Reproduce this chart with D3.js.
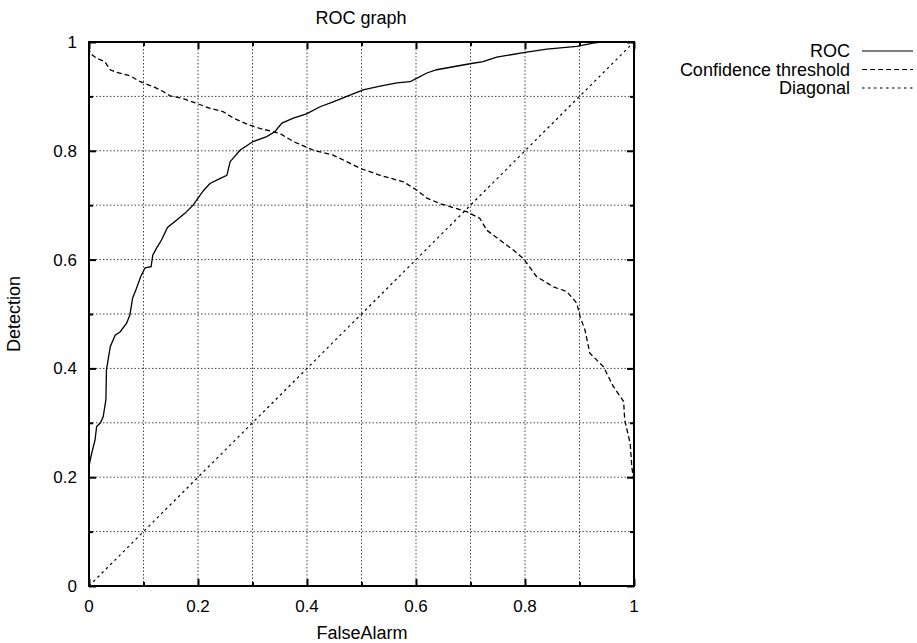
<!DOCTYPE html>
<html>
<head>
<meta charset="utf-8">
<script src="https://cdn.jsdelivr.net/npm/d3@7"></script>
<style>
  body { margin: 0; background: #fff; }
  text { font-family: "Liberation Sans", Arial, sans-serif; fill: #000; }
</style>
</head>
<body>
<svg id="chart" width="917" height="643"></svg>
<script>
// ROC curve (FalseAlarm, Detection)
const rocX = [0, 0, 0.003, 0.005, 0.011, 0.014, 0.021, 0.026, 0.031, 0.032, 0.039, 0.048, 0.057, 0.069, 0.075,
  0.08, 0.087, 0.095, 0.103, 0.114, 0.117, 0.124, 0.133, 0.144, 0.161, 0.176, 0.191, 0.2, 0.211, 0.222,
  0.24, 0.253, 0.259, 0.277, 0.301, 0.326, 0.341, 0.354, 0.375, 0.399, 0.424, 0.448, 0.473, 0.503, 0.534,
  0.565, 0.589, 0.601, 0.62, 0.638, 0.699, 0.723, 0.748, 0.8, 0.84, 0.895, 0.925, 0.94, 1];
const rocY = [0.04, 0.22, 0.235, 0.244, 0.268, 0.293, 0.3, 0.311, 0.342, 0.397, 0.44, 0.461, 0.467, 0.483, 0.498,
  0.529, 0.547, 0.569, 0.585, 0.587, 0.608, 0.621, 0.636, 0.659, 0.673, 0.685, 0.7, 0.713, 0.728, 0.74,
  0.749, 0.755, 0.78, 0.801, 0.817, 0.826, 0.835, 0.851, 0.86, 0.868, 0.881, 0.89, 0.9, 0.912, 0.919,
  0.925, 0.927, 0.933, 0.943, 0.949, 0.96, 0.964, 0.972, 0.981, 0.987, 0.992, 0.998, 1, 1];

// Confidence threshold curve
const thrX = [0, 0.002, 0.014, 0.029, 0.039, 0.051, 0.075, 0.094, 0.118, 0.136, 0.149, 0.173, 0.198, 0.222,
  0.246, 0.265, 0.295, 0.314, 0.35, 0.375, 0.412, 0.448, 0.473, 0.497, 0.534, 0.577, 0.601, 0.62, 0.644,
  0.693, 0.717, 0.73, 0.754, 0.778, 0.797, 0.821, 0.852, 0.877, 0.895, 0.901, 0.91, 0.919, 0.944, 0.962,
  0.981, 0.983, 0.993, 0.996, 1];
const thrY = [0.99, 0.979, 0.97, 0.964, 0.949, 0.944, 0.938, 0.927, 0.918, 0.909, 0.901, 0.896, 0.887, 0.878,
  0.872, 0.86, 0.847, 0.841, 0.832, 0.817, 0.801, 0.792, 0.78, 0.768, 0.755, 0.743, 0.728, 0.713, 0.703,
  0.688, 0.676, 0.654, 0.636, 0.618, 0.602, 0.569, 0.55, 0.541, 0.52, 0.495, 0.471, 0.428, 0.403, 0.367,
  0.339, 0.305, 0.262, 0.219, 0.19];

// Diagonal
const diagX = [0, 1];
const diagY = [0, 1];

const legendLabels = ["ROC", "Confidence threshold", "Diagonal"];
const tickValues = [0, 0.2, 0.4, 0.6, 0.8, 1];
const minorValues = [0.1, 0.3, 0.5, 0.7, 0.9];

const svg = d3.select("#chart");
const margin = { top: 42, right: 283, bottom: 57, left: 89 };
const width = 917, height = 643;

const x = d3.scaleLinear().domain([0, 1]).range([margin.left, width - margin.right]);
const y = d3.scaleLinear().domain([0, 1]).range([height - margin.bottom, margin.top]);

// grid
const allTicks = tickValues.concat(minorValues);
svg.append("g").selectAll("line")
  .data(allTicks.filter(d => d > 0 && d < 1))
  .enter().append("line")
  .attr("x1", d => x(d)).attr("x2", d => x(d))
  .attr("y1", y(0)).attr("y2", y(1))
  .attr("stroke", "#444").attr("stroke-width", 1).attr("stroke-dasharray", "1.5,2");
svg.append("g").selectAll("line")
  .data(allTicks.filter(d => d > 0 && d < 1))
  .enter().append("line")
  .attr("y1", d => y(d)).attr("y2", d => y(d))
  .attr("x1", x(0)).attr("x2", x(1))
  .attr("stroke", "#444").attr("stroke-width", 1).attr("stroke-dasharray", "1.5,2");

// axes with inward ticks on all sides
function axes(axisFn, vals, size, transform) {
  svg.append("g")
    .attr("transform", transform)
    .call(axisFn.tickValues(vals).tickSize(size).tickFormat(""))
    .call(g => g.select(".domain").remove())
    .call(g => g.selectAll("line").attr("stroke", "#000").attr("stroke-width", 2));
}
axes(d3.axisTop(x), tickValues, 7, `translate(0,${y(0)})`);
axes(d3.axisTop(x), minorValues, 4, `translate(0,${y(0)})`);
axes(d3.axisBottom(x), tickValues, 7, `translate(0,${y(1)})`);
axes(d3.axisBottom(x), minorValues, 4, `translate(0,${y(1)})`);
axes(d3.axisRight(y), tickValues, 7, `translate(${x(0)},0)`);
axes(d3.axisRight(y), minorValues, 4, `translate(${x(0)},0)`);
axes(d3.axisLeft(y), tickValues, 7, `translate(${x(1)},0)`);
axes(d3.axisLeft(y), minorValues, 4, `translate(${x(1)},0)`);

// tick labels
svg.append("g").selectAll("text")
  .data(tickValues).enter().append("text")
  .attr("x", d => x(d)).attr("y", y(0) + 25.5)
  .attr("text-anchor", "middle").attr("font-size", 17)
  .text(d => d3.format("~g")(d));
svg.append("g").selectAll("text")
  .data(tickValues).enter().append("text")
  .attr("x", x(0) - 12).attr("y", d => y(d) + 6)
  .attr("text-anchor", "end").attr("font-size", 17)
  .text(d => d3.format("~g")(d));

// curves
const line = d3.line().x(d => x(d[0])).y(d => y(d[1]));
svg.append("path")
  .datum(diagX.map((d, i) => [d, diagY[i]]))
  .attr("fill", "none").attr("stroke", "#000").attr("stroke-width", 1.2)
  .attr("stroke-dasharray", "2.5,3.5").attr("d", line);
svg.append("path")
  .datum(thrX.map((d, i) => [d, thrY[i]]))
  .attr("fill", "none").attr("stroke", "#000").attr("stroke-width", 1.3)
  .attr("stroke-dasharray", "5,3").attr("d", line);
svg.append("path")
  .datum(rocX.map((d, i) => [d, rocY[i]]))
  .attr("fill", "none").attr("stroke", "#000").attr("stroke-width", 1.3)
  .attr("d", line);

// frame
svg.append("rect")
  .attr("x", x(0)).attr("y", y(1))
  .attr("width", x(1) - x(0)).attr("height", y(0) - y(1))
  .attr("fill", "none").attr("stroke", "#000").attr("stroke-width", 2);

// titles
svg.append("text").attr("x", 361).attr("y", 23.5).attr("text-anchor", "middle")
  .attr("font-size", 18).text("ROC graph");
svg.append("text").attr("x", 362).attr("y", 639).attr("text-anchor", "middle")
  .attr("font-size", 18).text("FalseAlarm");
svg.append("text").attr("transform", "translate(20,314) rotate(-90)")
  .attr("text-anchor", "middle").attr("font-size", 18).text("Detection");

// legend
const dashes = [null, "5,3", "2.5,3.5"];
const legend = svg.append("g").selectAll("g")
  .data(legendLabels).enter().append("g")
  .attr("transform", (d, i) => `translate(0,${51 + i * 18.5})`);
legend.append("text").attr("x", 850).attr("y", 6)
  .attr("text-anchor", "end").attr("font-size", 18).text(d => d);
legend.append("line").attr("x1", 862).attr("x2", 913)
  .attr("stroke", "#000").attr("stroke-width", 1.2)
  .attr("stroke-dasharray", (d, i) => dashes[i]);
</script>
</body>
</html>
